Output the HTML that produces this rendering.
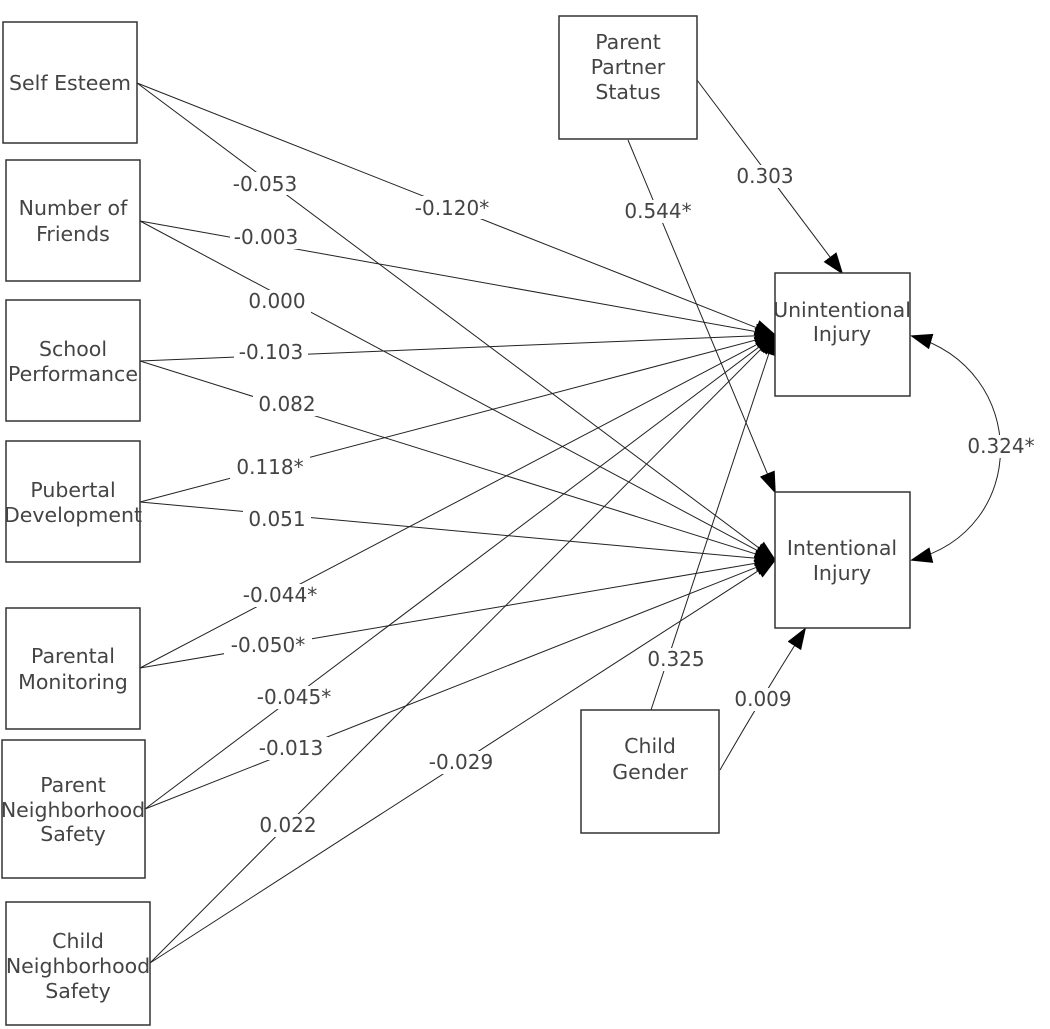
<!DOCTYPE html>
<html><head><meta charset="utf-8"><style>
html,body{margin:0;padding:0;background:#fff;}
svg{display:block;font-family:"DejaVu Sans","Liberation Sans",sans-serif;}
text{fill:#444;font-size:20px;text-anchor:middle;}
.n text{font-size:20.5px;}
.b{fill:#fff;stroke:#333;stroke-width:1.5;}
.l{stroke:#222;stroke-width:1;fill:none;}
</style></head><body>
<svg width="1050" height="1029" viewBox="0 0 1050 1029">
<defs>
<marker id="a" markerWidth="22" markerHeight="16" refX="20" refY="8" orient="auto-start-reverse" markerUnits="userSpaceOnUse">
<path d="M0,0 L22,8 L0,16 Z" fill="#000"/></marker>
</defs>
<g class="l">
<line x1="137" y1="83" x2="775" y2="335" marker-end="url(#a)"/>
<line x1="140" y1="221" x2="775" y2="335" marker-end="url(#a)"/>
<line x1="140" y1="361" x2="775" y2="335" marker-end="url(#a)"/>
<line x1="140" y1="502" x2="775" y2="335" marker-end="url(#a)"/>
<line x1="140" y1="668" x2="775" y2="335" marker-end="url(#a)"/>
<line x1="145" y1="809" x2="775" y2="335" marker-end="url(#a)"/>
<line x1="150" y1="963" x2="775" y2="335" marker-end="url(#a)"/>
<line x1="651" y1="710" x2="775" y2="335" marker-end="url(#a)"/>
<line x1="137" y1="83" x2="775" y2="560" marker-end="url(#a)"/>
<line x1="140" y1="221" x2="775" y2="560" marker-end="url(#a)"/>
<line x1="140" y1="361" x2="775" y2="560" marker-end="url(#a)"/>
<line x1="140" y1="502" x2="775" y2="560" marker-end="url(#a)"/>
<line x1="140" y1="668" x2="775" y2="560" marker-end="url(#a)"/>
<line x1="145" y1="809" x2="775" y2="560" marker-end="url(#a)"/>
<line x1="150" y1="963" x2="775" y2="560" marker-end="url(#a)"/>
<line x1="628" y1="140" x2="775" y2="492" marker-end="url(#a)"/>
<line x1="697" y1="80" x2="842" y2="273" marker-end="url(#a)"/>
<path d="M720,770 Q760,700 805,629" marker-end="url(#a)"/>
<path d="M912,336 C1030,370 1030,530 912,560" marker-start="url(#a)" marker-end="url(#a)"/>
</g>
<g class="b">
<rect x="3" y="22" width="134" height="121"/>
<rect x="6" y="160" width="134" height="121"/>
<rect x="6" y="300" width="134" height="121"/>
<rect x="6" y="441" width="134" height="121"/>
<rect x="6" y="608" width="134" height="121"/>
<rect x="2" y="740" width="143" height="138"/>
<rect x="6" y="902" width="144" height="123"/>
<rect x="559" y="16" width="138" height="123"/>
<rect x="775" y="273" width="135" height="123"/>
<rect x="775" y="492" width="135" height="136"/>
<rect x="581" y="710" width="138" height="123"/>
</g>
<g class="n">
<text x="70" y="90">Self Esteem</text>
<text x="73" y="215">Number of</text><text x="73" y="241">Friends</text>
<text x="73" y="356">School</text><text x="73" y="381">Performance</text>
<text x="73" y="497">Pubertal</text><text x="73" y="522">Development</text>
<text x="73" y="663">Parental</text><text x="73" y="689">Monitoring</text>
<text x="73" y="792">Parent</text><text x="73" y="817">Neighborhood</text><text x="73" y="841">Safety</text>
<text x="78" y="948">Child</text><text x="78" y="973">Neighborhood</text><text x="78" y="998">Safety</text>
<text x="628" y="49">Parent</text><text x="628" y="74">Partner</text><text x="628" y="99">Status</text>
<text x="842" y="317">Unintentional</text><text x="842" y="341">Injury</text>
<text x="842" y="555">Intentional</text><text x="842" y="580">Injury</text>
<text x="650" y="753">Child</text><text x="650" y="779">Gender</text>
</g>
<g>
<g fill="#fff">
<rect x="228" y="172" width="74" height="23"/><rect x="408" y="196" width="88" height="23"/>
<rect x="230" y="226" width="70" height="23"/><rect x="243" y="290" width="68" height="23"/>
<rect x="234" y="341" width="74" height="23"/><rect x="253" y="393" width="68" height="23"/>
<rect x="230" y="456" width="80" height="23"/><rect x="243" y="508" width="68" height="23"/>
<rect x="236" y="584" width="88" height="23"/><rect x="224" y="634" width="88" height="23"/>
<rect x="250" y="686" width="88" height="23"/><rect x="254" y="737" width="74" height="23"/>
<rect x="424" y="751" width="74" height="23"/><rect x="254" y="814" width="68" height="23"/>
<rect x="614" y="200" width="88" height="23"/><rect x="731" y="165" width="68" height="23"/>
<rect x="642" y="648" width="68" height="23"/><rect x="729" y="688" width="68" height="23"/>
<rect x="961" y="435" width="80" height="23"/>
</g>
<text x="265" y="191">-0.053</text><text x="452" y="215">-0.120*</text>
<text x="266" y="244">-0.003</text><text x="277" y="308">0.000</text>
<text x="271" y="359">-0.103</text><text x="287" y="411">0.082</text>
<text x="270" y="474">0.118*</text><text x="277" y="526">0.051</text>
<text x="280" y="602">-0.044*</text><text x="268" y="652">-0.050*</text>
<text x="294" y="704">-0.045*</text><text x="291" y="755">-0.013</text>
<text x="461" y="769">-0.029</text><text x="288" y="832">0.022</text>
<text x="658" y="218">0.544*</text><text x="765" y="183">0.303</text>
<text x="676" y="666">0.325</text><text x="763" y="706">0.009</text>
<text x="1001" y="453">0.324*</text>
</g>
</svg>
</body></html>
